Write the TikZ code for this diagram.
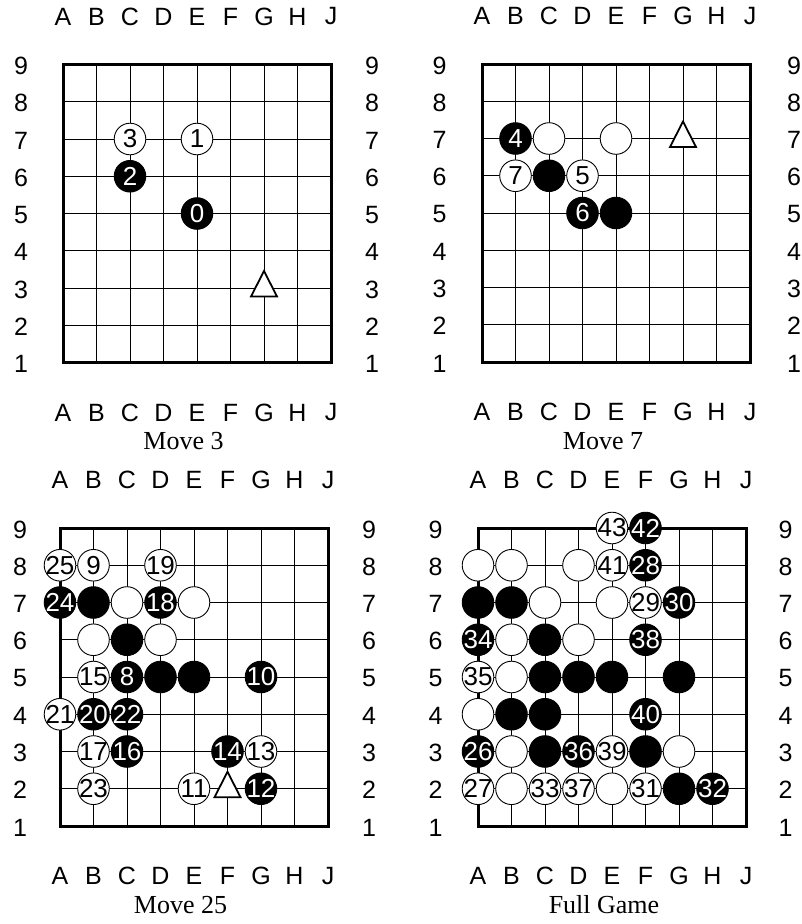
\documentclass[tikz,border=0pt]{standalone}
\usepackage{fontspec}
\setmainfont{Liberation Serif}
\setsansfont{Liberation Sans}
\newcommand\gbdx{33.5}
\newcommand\gbdy{37.25}
\newcommand\goboard[7]{%
  \foreach \c [count=\i from 0] in {A,B,C,D,E,F,G,H,J}{
    \foreach \r in {1,...,9}{
      \coordinate (#1-\c\r) at ({#2+\i*\gbdx},{#3+(9-\r)*\gbdy});
    }
  }
  \foreach \c in {A,B,C,D,E,F,G,H,J}{\draw[gridline] (#1-\c9) -- (#1-\c1);}
  \foreach \r in {1,...,9}{\draw[gridline] (#1-A\r) -- (#1-J\r);}
  \draw[boardedge] (#1-A9) rectangle (#1-J1);
  \foreach \c [count=\i from 0] in {A,B,C,D,E,F,G,H,J}{
    \node[lbl] (#1-top\c) at ({#2+\i*\gbdx},{#3-48}) {\c};
    \node[lbl] (#1-bot\c) at ({#2+\i*\gbdx},{#3+8*\gbdy+50}) {\c};
  }
  \foreach \r in {1,...,9}{
    \node[lbl] (#1-left\r) at ({#6},{#3+(9-\r)*\gbdy+1.5}) {\r};
    \node[lbl] (#1-right\r) at ({#7},{#3+(9-\r)*\gbdy+1.5}) {\r};
  }
  \node[captxt] (#1-cap) at ({#4},{#3+8*\gbdy+87}) {#5};
}
\newcommand\ws[3]{\node[wstone] (#1s-#2) at (#1-#2) {\makebox[0pt]{#3}};}
\newcommand\bs[3]{\node[bstone] (#1s-#2) at (#1-#2) {\makebox[0pt]{#3}};}
\newcommand\trimk[2]{\coordinate (#1t) at (#1-#2);
  \draw[trimark] ([shift={(0,-17)}]#1t) -- ([shift={(13,8.5)}]#1t) -- ([shift={(-13,8.5)}]#1t) -- cycle;}
\begin{document}
\begin{tikzpicture}[x=1pt,y=-1pt,
  gridline/.style={line width=0.9pt, black},
  boardedge/.style={line width=3pt, black},
  lbl/.style={font=\fontsize{25}{25}\selectfont\sffamily, inner sep=0pt},
  captxt/.style={font=\fontsize{26}{26}\selectfont\rmfamily, inner sep=0pt, anchor=base},
  wstone/.style={circle, draw=black, line width=0.9pt, fill=white, minimum size=31.6pt, inner sep=0pt, text=black, font=\fontsize{26}{26}\selectfont\sffamily},
  bstone/.style={circle, draw=black, line width=0.9pt, fill=black, minimum size=31.6pt, inner sep=0pt, text=white, font=\fontsize{26}{26}\selectfont\sffamily},
  trimark/.style={draw=black, fill=white, line width=1.8pt}]
\fill[white] (0,0) rectangle (801,924);
\useasboundingbox (0,0) rectangle (801,924);
% Board 1: Move 3
\goboard{b1}{63}{64.5}{183.5}{Move 3}{21}{372}
\ws{b1}{C7}{3}
\ws{b1}{E7}{1}
\bs{b1}{C6}{2}
\bs{b1}{E5}{0}
\trimk{b1}{G3}
% Board 2: Move 7
\goboard{b2}{482}{64}{603}{Move 7}{439.5}{794}
\bs{b2}{B7}{4}
\ws{b2}{C7}{}
\ws{b2}{E7}{}
\ws{b2}{B6}{7}
\bs{b2}{C6}{}
\ws{b2}{D6}{5}
\bs{b2}{D5}{6}
\bs{b2}{E5}{}
\trimk{b2}{G7}
% Board 3: Move 25
\goboard{b3}{60}{528}{180.5}{Move 25}{20}{369}
\ws{b3}{A8}{25}
\ws{b3}{B8}{9}
\ws{b3}{D8}{19}
\bs{b3}{A7}{24}
\bs{b3}{B7}{}
\ws{b3}{C7}{}
\bs{b3}{D7}{18}
\ws{b3}{E7}{}
\ws{b3}{B6}{}
\bs{b3}{C6}{}
\ws{b3}{D6}{}
\ws{b3}{B5}{15}
\bs{b3}{C5}{8}
\bs{b3}{D5}{}
\bs{b3}{E5}{}
\bs{b3}{G5}{10}
\ws{b3}{A4}{21}
\bs{b3}{B4}{20}
\bs{b3}{C4}{22}
\ws{b3}{B3}{17}
\bs{b3}{C3}{16}
\bs{b3}{F3}{14}
\ws{b3}{G3}{13}
\ws{b3}{B2}{23}
\ws{b3}{E2}{11}
\bs{b3}{G2}{12}
\trimk{b3}{F2}
% Board 4: Full Game
\goboard{b4}{478}{528}{604}{Full Game}{435.5}{785.5}
\ws{b4}{E9}{43}
\bs{b4}{F9}{42}
\ws{b4}{A8}{}
\ws{b4}{B8}{}
\ws{b4}{D8}{}
\ws{b4}{E8}{41}
\bs{b4}{F8}{28}
\bs{b4}{A7}{}
\bs{b4}{B7}{}
\ws{b4}{C7}{}
\ws{b4}{E7}{}
\ws{b4}{F7}{29}
\bs{b4}{G7}{30}
\bs{b4}{A6}{34}
\ws{b4}{B6}{}
\bs{b4}{C6}{}
\ws{b4}{D6}{}
\bs{b4}{F6}{38}
\ws{b4}{A5}{35}
\ws{b4}{B5}{}
\bs{b4}{C5}{}
\bs{b4}{D5}{}
\bs{b4}{E5}{}
\bs{b4}{G5}{}
\ws{b4}{A4}{}
\bs{b4}{B4}{}
\bs{b4}{C4}{}
\bs{b4}{F4}{40}
\bs{b4}{A3}{26}
\ws{b4}{B3}{}
\bs{b4}{C3}{}
\bs{b4}{D3}{36}
\ws{b4}{E3}{39}
\bs{b4}{F3}{}
\ws{b4}{G3}{}
\ws{b4}{A2}{27}
\ws{b4}{B2}{}
\ws{b4}{C2}{33}
\ws{b4}{D2}{37}
\ws{b4}{E2}{}
\ws{b4}{F2}{31}
\bs{b4}{G2}{}
\bs{b4}{H2}{32}
\end{tikzpicture}
\end{document}
